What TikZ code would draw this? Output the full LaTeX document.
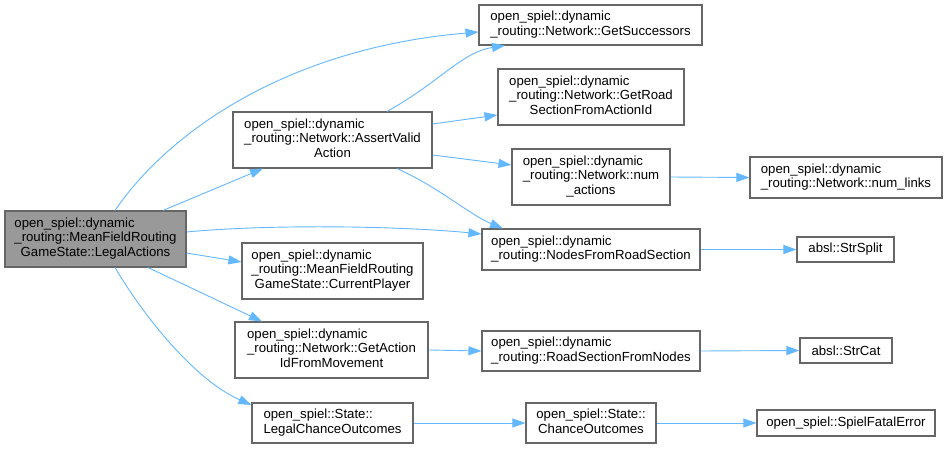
\documentclass[tikz,border=0pt]{standalone}
\usepackage{fontspec}
\setmainfont{Liberation Sans}
\usetikzlibrary{arrows.meta}
\definecolor{edgeblue}{HTML}{63B8FF}
\definecolor{boxgray}{HTML}{666666}
\definecolor{maingray}{HTML}{999999}
\newcommand{\dxlbl}[2]{\begin{tabular}{@{}l@{}}#1\\\multicolumn{1}{@{}c@{}}{#2}\end{tabular}}
\begin{document}
\begin{tikzpicture}[x=1pt,y=-1pt,
  fn/.style={draw=boxgray, line width=1.1pt, fill=white, inner sep=0pt, rectangle,
    font=\fontsize{13.2}{14.8}\selectfont},
  mainfn/.style={fn, fill=maingray},
  edge/.style={draw=edgeblue, line width=0.9pt, -{Triangle[length=13pt,width=9pt]}}]
\useasboundingbox[fill=white] (0,0) rectangle (947,449);

\node[mainfn, minimum width=181, minimum height=56] (main) at (95.5,239)
  {\dxlbl{open\_spiel::dynamic\\\_routing::MeanFieldRouting}{GameState::LegalActions}};
\node[fn, minimum width=223, minimum height=40] (succ) at (590.5,25)
  {\dxlbl{open\_spiel::dynamic}{\_routing::Network::GetSuccessors}};
\node[fn, minimum width=186, minimum height=56] (road) at (591,97)
  {\dxlbl{open\_spiel::dynamic\\\_routing::Network::GetRoad}{SectionFromActionId}};
\node[fn, minimum width=199, minimum height=56] (assert) at (332.5,140)
  {\dxlbl{open\_spiel::dynamic\\\_routing::Network::AssertValid}{Action}};
\node[fn, minimum width=158, minimum height=56] (numact) at (591,177)
  {\dxlbl{open\_spiel::dynamic\\\_routing::Network::num}{\_actions}};
\node[fn, minimum width=192, minimum height=41] (numlinks) at (846,177.5)
  {\dxlbl{open\_spiel::dynamic}{\_routing::Network::num\_links}};
\node[fn, minimum width=218, minimum height=41] (nodes) at (591,249.5)
  {\dxlbl{open\_spiel::dynamic}{\_routing::NodesFromRoadSection}};
\node[fn, minimum width=97, minimum height=25] (strsplit) at (845.5,249.5) {absl::StrSplit};
\node[fn, minimum width=181, minimum height=56] (curp) at (332.5,271)
  {\dxlbl{open\_spiel::dynamic\\\_routing::MeanFieldRouting}{GameState::CurrentPlayer}};
\node[fn, minimum width=193, minimum height=56] (getact) at (331.5,350)
  {\dxlbl{open\_spiel::dynamic\\\_routing::Network::GetAction}{IdFromMovement}};
\node[fn, minimum width=218, minimum height=40] (rsfn) at (591,351)
  {\dxlbl{open\_spiel::dynamic}{\_routing::RoadSectionFromNodes}};
\node[fn, minimum width=92, minimum height=25] (strcat) at (846,350.5) {absl::StrCat};
\node[fn, minimum width=161, minimum height=40] (lco) at (332.5,423)
  {\dxlbl{open\_spiel::State::}{LegalChanceOutcomes}};
\node[fn, minimum width=130, minimum height=40] (co) at (591,423)
  {\dxlbl{open\_spiel::State::}{ChanceOutcomes}};
\node[fn, minimum width=178, minimum height=26] (sfe) at (846,423) {open\_spiel::SpielFatalError};

\draw[edge] ([xshift=19.5pt]main.north) .. controls (170,130) and (290,48) .. ([yshift=-7pt]succ.west);
\draw[edge] ([xshift=67.5pt]main.north) -- ([xshift=-69.5pt]assert.south);
\draw[edge] ([yshift=7pt]main.east) .. controls (270,224) and (400,226) .. ([yshift=15.5pt]nodes.west);
\draw[edge] ([yshift=-14pt]main.east) -- ([yshift=9pt]curp.west);
\draw[edge] ([xshift=52.5pt]main.south) -- ([xshift=-69.5pt]getact.north);
\draw[edge] ([xshift=19.5pt]main.south) .. controls (145,318) and (195,380) .. ([yshift=18pt]lco.west);
\draw[edge] ([xshift=54.5pt]assert.north) .. controls (440,82) and (462,52) .. ([xshift=-85.5pt]succ.south);
\draw[edge] ([yshift=16pt]assert.east) -- ([yshift=-18pt]road.west);
\draw[edge] ([yshift=-15pt]assert.east) -- ([yshift=12pt]numact.west);
\draw[edge] ([xshift=64.5pt]assert.south) .. controls (440,188) and (470,215) .. ([xshift=-88pt]nodes.north);
\draw[edge] (numact.east) -- (numlinks.west);
\draw[edge] (nodes.east) -- (strsplit.west);
\draw[edge] (getact.east) -- (rsfn.west);
\draw[edge] (rsfn.east) -- (strcat.west);
\draw[edge] (lco.east) -- (co.west);
\draw[edge] (co.east) -- (sfe.west);
\end{tikzpicture}
\end{document}
